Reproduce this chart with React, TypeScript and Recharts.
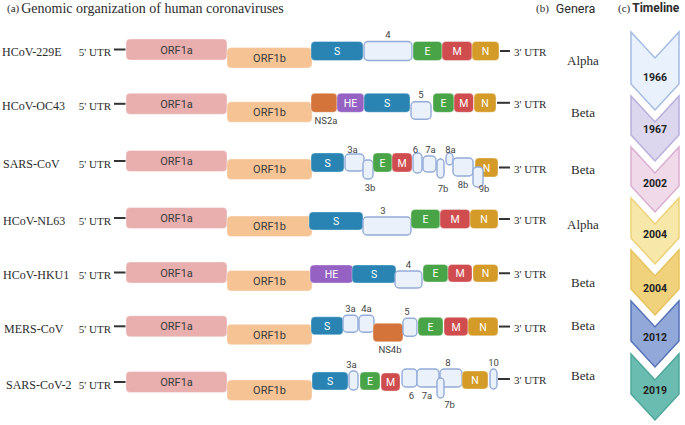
import React from 'react';
import { ScatterChart, Scatter, XAxis, YAxis, ReferenceArea, ReferenceLine } from 'recharts';

const W = 685;
const H = 425;

// rows of the figure
const viruses = ['HCoV-229E', 'HCoV-OC43', 'SARS-CoV', 'HCoV-NL63', 'HCoV-HKU1', 'MERS-CoV', 'SARS-CoV-2'];
const genera = ['Alpha', 'Beta', 'Beta', 'Alpha', 'Beta', 'Beta', 'Beta'];
const years = ['1966', '1967', '2002', '2004', '2004', '2012', '2019'];

type Gene = { name: string; start: number; end: number; top: number; bottom: number; at?: 'up' | 'down'; ldx?: number; ldy?: number };

const orf: Gene[] = [
  { name: 'ORF1a', start: 126, end: 227, top: -10.5, bottom: 10.5 },
  { name: 'ORF1b', start: 227, end: 312, top: -2, bottom: 18.5 },
];

const hcov229e: Gene[] = [
  { name: 'S', start: 311, end: 363, top: -8, bottom: 11 },
  { name: '4', start: 364, end: 412, top: -8, bottom: 11, at: 'up' },
  { name: 'E', start: 413, end: 442, top: -8, bottom: 11 },
  { name: 'M', start: 442, end: 472, top: -8, bottom: 11 },
  { name: 'N', start: 472, end: 499, top: -8, bottom: 11 },
];

const hcovOC43: Gene[] = [
  { name: 'NS2a', start: 311, end: 337, top: -10.5, bottom: 8.5, at: 'down', ldx: 2 },
  { name: 'HE', start: 337, end: 364, top: -10.5, bottom: 8.5 },
  { name: 'S', start: 364, end: 410, top: -10.5, bottom: 8.5 },
  { name: '5', start: 411, end: 431, top: -2, bottom: 15.5, at: 'up' },
  { name: 'E', start: 433, end: 454, top: -10.5, bottom: 8.5 },
  { name: 'M', start: 454, end: 473.5, top: -10.5, bottom: 8.5 },
  { name: 'N', start: 474, end: 496, top: -10.5, bottom: 8.5 },
];

const sarsCoV: Gene[] = [
  { name: 'S', start: 311, end: 344, top: -8, bottom: 11 },
  { name: '3a', start: 345, end: 364, top: -7, bottom: 10, at: 'up', ldx: -2, ldy: 2 },
  { name: '3b', start: 363, end: 373, top: -1, bottom: 18, at: 'down', ldx: 2 },
  { name: 'E', start: 373, end: 392, top: -8, bottom: 11 },
  { name: 'M', start: 392, end: 412, top: -8, bottom: 11 },
  { name: '6', start: 413, end: 422, top: -8, bottom: 12, at: 'up', ldx: -2, ldy: 3 },
  { name: '7a', start: 423, end: 436, top: -5, bottom: 11, at: 'up', ldx: 1, ldy: 0 },
  { name: '7b', start: 437, end: 444, top: -2, bottom: 17, at: 'down', ldx: 2.5, ldy: 2 },
  { name: '8a', start: 446, end: 453, top: -8, bottom: 4, at: 'up', ldx: 1, ldy: 3 },
  { name: '8b', start: 453, end: 473, top: -3, bottom: 15, at: 'down' },
  { name: 'N', start: 475, end: 498, top: -3, bottom: 16 },
  { name: '9b', start: 473, end: 483, top: 6, bottom: 26, at: 'down', ldx: 6, ldy: -7 },
];

const hcovNL63: Gene[] = [
  { name: 'S', start: 309, end: 363, top: -6, bottom: 12 },
  { name: '3', start: 363, end: 411, top: -1, bottom: 17, at: 'up', ldx: -4 },
  { name: 'E', start: 411, end: 440, top: -8.5, bottom: 10.5 },
  { name: 'M', start: 440, end: 470, top: -8.5, bottom: 10.5 },
  { name: 'N', start: 470, end: 498, top: -8.5, bottom: 10.5 },
];

const hcovHKU1: Gene[] = [
  { name: 'HE', start: 310, end: 353, top: -7.5, bottom: 10.5 },
  { name: 'S', start: 352, end: 396, top: -7.5, bottom: 10.5 },
  { name: '4', start: 395, end: 422, top: -1.5, bottom: 15.5, at: 'up' },
  { name: 'E', start: 423, end: 448, top: -8, bottom: 9.5 },
  { name: 'M', start: 448, end: 472, top: -8, bottom: 9.5 },
  { name: 'N', start: 473, end: 498, top: -8, bottom: 9.5 },
];

const mersCoV: Gene[] = [
  { name: 'S', start: 311, end: 343, top: -9.5, bottom: 8.5 },
  { name: '3a', start: 343, end: 358, top: -11, bottom: 6, at: 'up' },
  { name: '4a', start: 359, end: 374, top: -11, bottom: 6, at: 'up' },
  { name: 'NS4b', start: 373, end: 403, top: -3, bottom: 15.5, at: 'down', ldx: 2 },
  { name: '5', start: 403, end: 417, top: -8, bottom: 10, at: 'up', ldx: -3 },
  { name: 'E', start: 418, end: 443, top: -9, bottom: 9.5 },
  { name: 'M', start: 444, end: 468, top: -9, bottom: 9.5 },
  { name: 'N', start: 468, end: 498, top: -9, bottom: 9.5 },
];

const sarsCoV2: Gene[] = [
  { name: 'S', start: 312, end: 348, top: -10, bottom: 8 },
  { name: '3a', start: 349, end: 358, top: -11, bottom: 8, at: 'up', ldx: -2 },
  { name: 'E', start: 360, end: 380, top: -10, bottom: 8 },
  { name: 'M', start: 381, end: 400, top: -9, bottom: 9 },
  { name: '6', start: 402, end: 417, top: -13, bottom: 5, at: 'down', ldx: 2 },
  { name: '7a', start: 417, end: 439, top: -13, bottom: 5, at: 'down', ldx: -1 },
  { name: '8', start: 440, end: 462, top: -13, bottom: 5, at: 'up', ldx: -3 },
  { name: 'N', start: 462, end: 488, top: -11, bottom: 7 },
  { name: '10', start: 490, end: 497, top: -13, bottom: 7, at: 'up' },
  { name: '7b', start: 437, end: 444, top: -4, bottom: 16, at: 'down', ldx: 9, ldy: -2 },
];

const genomes: Gene[][] = [hcov229e, hcovOC43, sarsCoV, hcovNL63, hcovHKU1, mersCoV, sarsCoV2];

// layout
const rowY = [49.5, 103.8, 161, 218, 272.5, 326.3, 382];
const nameX = [2, 2, 3, 3, 3, 4, 6];
const generaY = [60, 112, 169, 224, 282, 325, 375];
const chevTop = [32, 96, 147, 198, 250, 301, 354];
const chevSideEnd = [84, 135, 186, 238, 289, 341, 394];
const yearY = [77, 129, 183, 234, 288, 337, 390];
const chevFill = ['#e9f1fc', '#dcd7ee', '#f0d9e9', '#f7e7a8', '#f1d27c', '#92a8d9', '#6bbcb0'];
const chevStroke = ['#a5bbe2', '#b8afdb', '#dcaed0', '#eed27a', '#e7c35c', '#5573b8', '#4ea89a'];

const GENE_FILL: Record<string, string> = {
  ORF1a: '#e9afae', ORF1b: '#f6c395', S: '#2a84b3', E: '#48a446', M: '#cf4d4e',
  N: '#d49b28', HE: '#9561c2', NS2a: '#d5743a', NS4b: '#d5743a',
};

const SANS = 'Roboto, "Noto Sans", sans-serif';
const SERIF = '"Liberation Serif", "DejaVu Serif", serif';

const GeneBox = (p: any) => {
  const { x, y, width, height, gene } = p;
  const g = gene as Gene;
  const fill = GENE_FILL[g.name];
  const acc = !fill;
  const dark = g.name === 'ORF1a' || g.name === 'ORF1b';
  let label = null;
  if (g.at) {
    const ly = g.at === 'up' ? y - 7 : y + height + 8;
    label = (
      <text x={x + width / 2 + (g.ldx ?? 0)} y={ly + (g.ldy ?? 0)} textAnchor="middle" dominantBaseline="central"
        fontFamily={SANS} fontSize={9.5} fill="#444">{g.name}</text>
    );
  } else {
    label = (
      <text x={x + width / 2} y={y + height / 2 + 0.5} textAnchor="middle" dominantBaseline="central"
        fontFamily={SANS} fontSize={dark ? 11 : 10.5} fill={dark ? '#3a3a3a' : '#ffffff'}>{g.name}</text>
    );
  }
  return (
    <g>
      <rect x={x} y={y} width={width} height={height} rx={4} ry={4}
        fill={acc ? '#eaf1fb' : fill} stroke={acc ? '#93acd8' : 'rgba(255,255,255,0.35)'} strokeWidth={acc ? 1.4 : 1} />
      {label}
    </g>
  );
};

const Chevron = (p: any) => {
  const { x, y, width, height, fill, stroke } = p;
  const d = 26;
  const pts = [
    [x, y], [x + width / 2, y + d], [x + width, y], [x + width, y + height - d],
    [x + width / 2, y + height], [x, y + height - d],
  ].map((q) => q.join(',')).join(' ');
  return <polygon points={pts} fill={fill} stroke={stroke} strokeWidth={1.5} strokeLinejoin="miter" />;
};

const makeText = (family: string, size: number, anchor: string, weight = 400, color = '#2b2b2b') => (p: any) => (
  <text x={p.cx} y={p.cy} textAnchor={anchor} dominantBaseline="central" fontFamily={family}
    fontSize={size} fontWeight={weight} fill={color}>{p.payload.text}</text>
);

const lastGene = (gs: Gene[]) => gs.reduce((a, b) => (b.end > a.end ? b : a));

const nameLabels = viruses.map((v, i) => ({ x: nameX[i], y: rowY[i] + 2.5, text: v }));
const utr5Labels = viruses.map((_, i) => ({ x: 111, y: rowY[i] + 2.5, text: "5' UTR" }));
const utr3Labels = genomes.map((gs, i) => {
  const g = lastGene(gs);
  return { x: 514, y: rowY[i] + (g.top + g.bottom) / 2 + 1, text: "3' UTR" };
});
const generaLabels = genera.map((g, i) => ({ x: 583, y: generaY[i], text: g }));
const yearLabels = years.map((t, i) => ({ x: 655, y: yearY[i], text: t }));

const Header = (p: any) => {
  const { cx, cy, payload } = p;
  return (
    <text x={cx} y={cy} dominantBaseline="central" fill="#2b2b2b">
      <tspan fontFamily={SERIF} fontSize={11}>{payload.tag}</tspan>
      <tspan dx={payload.gap} fontFamily={payload.sans ? SANS : SERIF} fontSize={payload.size}
        fontWeight={payload.bold ? 700 : 400}>{payload.text}</tspan>
    </text>
  );
};

const headers = [
  { x: 7, y: 8, tag: '(a)', text: 'Genomic organization of human coronaviruses', size: 14, gap: 2, sans: false, bold: false },
  { x: 536, y: 8, tag: '(b)', text: 'Genera', size: 12.5, gap: 7, sans: true, bold: false },
  { x: 618, y: 8, tag: '(c)', text: 'Timeline', size: 12, gap: 2, sans: true, bold: true },
];

export default function App() {
  return (
    <div style={{ position: 'absolute', left: 0, top: 0, width: W, height: H, background: '#ffffff' }}>
      <ScatterChart width={W} height={H} margin={{ top: 0, right: 0, bottom: 0, left: 0 }}>
        <XAxis type="number" dataKey="x" domain={[0, W]} hide allowDataOverflow />
        <YAxis type="number" dataKey="y" domain={[0, H]} reversed hide allowDataOverflow />

        {years.map((t, i) => (
          <ReferenceArea key={`chev-${i}`} x1={631} x2={679} y1={chevTop[i]} y2={chevSideEnd[i] + 26}
            ifOverflow="visible" fill={chevFill[i]} stroke={chevStroke[i]}
            shape={(p: any) => <Chevron {...p} fill={chevFill[i]} stroke={chevStroke[i]} />} />
        ))}

        {genomes.map((gs, i) =>
          [...orf, ...gs].map((g, j) => (
            <ReferenceArea key={`gene-${i}-${j}`} x1={g.start} x2={g.end} y1={rowY[i] + g.top} y2={rowY[i] + g.bottom}
              ifOverflow="visible" shape={(p: any) => <GeneBox {...p} gene={g} />} />
          ))
        )}

        {rowY.map((r, i) => (
          <ReferenceLine key={`u5-${i}`} segment={[{ x: 114, y: r }, { x: 125.5, y: r }]}
            stroke="#333" strokeWidth={2} ifOverflow="visible" />
        ))}
        {genomes.map((gs, i) => {
          const g = lastGene(gs);
          const yy = rowY[i] + (g.top + g.bottom) / 2;
          return (
            <ReferenceLine key={`u3-${i}`} segment={[{ x: g.end + 1, y: yy }, { x: 510, y: yy }]}
              stroke="#333" strokeWidth={2} ifOverflow="visible" />
          );
        })}

        <Scatter data={nameLabels} shape={makeText(SERIF, 12, 'start')} isAnimationActive={false} />
        <Scatter data={utr5Labels} shape={makeText(SERIF, 11, 'end')} isAnimationActive={false} />
        <Scatter data={utr3Labels} shape={makeText(SERIF, 11, 'start')} isAnimationActive={false} />
        <Scatter data={generaLabels} shape={makeText(SERIF, 13, 'middle')} isAnimationActive={false} />
        <Scatter data={yearLabels} shape={makeText(SANS, 10.5, 'middle', 700, '#222')} isAnimationActive={false} />
        <Scatter data={headers} shape={Header} isAnimationActive={false} />
      </ScatterChart>
    </div>
  );
}
